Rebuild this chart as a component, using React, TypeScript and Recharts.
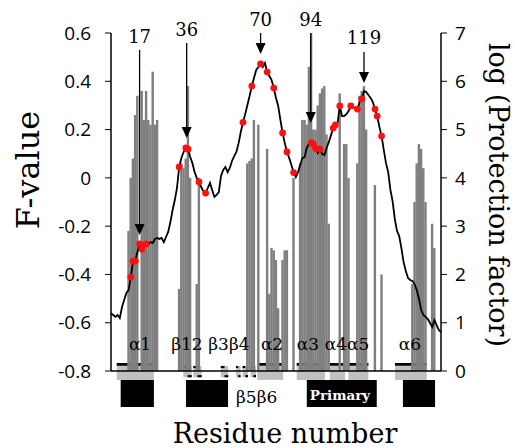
import React from 'react'
import { ComposedChart, Bar, Line, XAxis, YAxis, ReferenceArea, ReferenceLine, ReferenceDot } from 'recharts'

// F-value per residue, starting at residue 3
const FIRST_RESIDUE = 3
const F_VALUES = [
  -0.56, -0.568, -0.576, -0.568, -0.581, -0.535, -0.506, -0.477, -0.465, -0.411,
  -0.345, -0.345, -0.307, -0.274, -0.295, -0.278, -0.274, -0.274, -0.266, -0.27,
  -0.253, -0.249, -0.253, -0.249, -0.266, -0.245, -0.224, -0.183, -0.133, -0.092,
  -0.042, 0.045, 0.082, 0.107, 0.124, 0.119, 0.086, 0.061, 0.024, -0.001,
  -0.017, -0.038, -0.055, -0.063, -0.042, -0.021, -0.05, -0.079, -0.071, -0.059,
  0.008, 0.033, 0.045, 0.024, 0.041, 0.07, 0.09, 0.107, 0.144, 0.19,
  0.23, 0.264, 0.302, 0.339, 0.38, 0.414, 0.447, 0.459, 0.472, 0.459,
  0.476, 0.438, 0.422, 0.405, 0.372, 0.331, 0.298, 0.24, 0.186, 0.144,
  0.107, 0.082, 0.053, 0.022, 0.003, 0.024, 0.053, 0.082, 0.086, 0.124,
  0.142, 0.146, 0.14, 0.122, 0.103, 0.119, 0.099, 0.095, 0.124, 0.148,
  0.177, 0.206, 0.219, 0.227, 0.298, 0.256, 0.256, 0.264, 0.277, 0.298,
  0.293, 0.289, 0.285, 0.314, 0.327, 0.36, 0.356, 0.343, 0.331, 0.314,
  0.285, 0.256, 0.211, 0.173, 0.115, 0.061, 0.024, -0.05, -0.096, -0.17,
  -0.22, -0.241, -0.291, -0.349, -0.386, -0.415, -0.423, -0.427, -0.44, -0.465,
  -0.502, -0.547, -0.568, -0.576, -0.585, -0.601, -0.618, -0.589, -0.61, -0.63,
  -0.639,
]
const RESIDUES = F_VALUES.map((_, i) => FIRST_RESIDUE + i)

// log(protection factor) bars
const PF_RESIDUES = [
  11, 12, 13, 14, 15, 17, 18, 19, 20, 21, 22, 23, 24,
  34, 35, 36, 37, 38, 39, 42, 43,
  65, 66, 67, 68, 70, 74, 75, 76, 77, 78, 79, 81, 82, 83, 86, 89,
  90, 91, 92, 93, 94, 95, 96, 97, 98, 99, 100, 101, 102,
  107, 109, 110, 111, 115, 116, 117, 118, 119, 123, 126,
  140, 141, 142, 143, 144, 145, 146, 149, 150,
]
const PF_VALUES = [
  2.9, 4.0, 4.4, 5.3, 5.7, 5.8, 5.2, 5.8, 5.2, 5.1, 6.2, 5.1, 5.2,
  1.7, 4.3, 4.2, 4.4, 5.9, 4.0, 1.8, 4.0,
  4.3, 4.35, 4.4, 5.2, 5.1, 4.6, 1.6, 2.55, 2.5, 2.3, 1.3, 2.3, 2.5, 2.5, 4.0, 4.3,
  5.2, 5.2, 5.1, 6.3, 7.0, 5.0, 5.0, 5.5, 5.75, 5.85, 5.9, 4.9, 3.05,
  5.75, 4.7, 4.7, 4.0, 4.3, 5.7, 5.8, 5.9, 5.0, 3.85, 2.0,
  1.8, 3.5, 4.3, 4.7, 4.6, 4.2, 3.5, 3.05, 2.55,
]

const RED_RESIDUES = [
  12, 13, 14, 16, 17, 19, 34, 37, 38, 43, 46, 63, 67, 71, 74, 77, 81, 83, 86,
  94, 95, 96, 98, 104, 105, 107, 112, 115, 117, 123, 124, 126,
]

const F_TICKS = [-0.8, -0.6, -0.4, -0.2, 0, 0.2, 0.4, 0.6]
const PF_TICKS = [0, 1, 2, 3, 4, 5, 6, 7]

// arrows with residue labels
const ARROW_LABELS = ['17', '36', '70', '94', '119']
const ARROW_AT = [16, 37.4, 71, 93.8, 118]
const ARROW_TOP = [0.53, 0.559, 0.6, 0.6, 0.521]
const ARROW_TIP = [-0.237, 0.165, 0.513, 0.227, 0.393]
const ARROW_TEXT = [0.585, 0.614, 0.654, 0.654, 0.581]

// secondary structure track
const HELIX_FROM = [5.6, 69.5, 87.4, 102.5, 110.9, 132.1]
const HELIX_TO = [22.5, 81.3, 100.3, 109.4, 120, 146.5]
const STRAND_FROM = [35.9, 40.4, 52.9, 59.8, 62.8, 66.5]
const STRAND_TO = [39.7, 44.2, 56.3, 61.9, 65.3, 68.9]
const BLOCK_FROM = [7.4, 37.1, 92, 135.7]
const BLOCK_TO = [22.5, 56.2, 123.8, 150.3]
const SS_LABELS = ['α1', 'β12', 'β3β4', 'α2', 'α3', 'α4α5', 'α6']
const SS_LABEL_AT = [16.2, 37.5, 56.6, 76.2, 92.5, 110.3, 138.9]

const data = RESIDUES.map((r, i) => {
  const k = PF_RESIDUES.indexOf(r)
  return {
    r,
    f: F_VALUES[i],
    pf: k >= 0 ? PF_VALUES[k] : null,
    red: RED_RESIDUES.includes(r) ? F_VALUES[i] : null,
  }
})

const SERIF = 'DejaVu Serif'
const TICK_FONT = { fill: '#000', fontSize: 19, fontFamily: 'Open Sans' }

const textShape = (txt: string, size: number, fill = '#000', weight = 'normal') => (p: any) => (
  <text x={p.cx} y={p.cy} textAnchor="middle" dominantBaseline="central" fontFamily={SERIF} fontSize={size} fontWeight={weight} fill={fill}>
    {txt}
  </text>
)

const headShape = (p: any) => (
  <polygon points={`${p.cx - 5},${p.cy - 11} ${p.cx + 5},${p.cy - 11} ${p.cx},${p.cy}`} fill="#000" />
)

// thin column centred on the residue, wide enough to touch its neighbours
const columnShape = (p: any) => {
  if (!p.height || p.height <= 0) return <g />
  const cx = p.x + p.width / 2
  return <rect x={cx - 1.2} y={p.y} width={2.4} height={p.height} fill="#7f7f7f" />
}

const App: React.FC = () => {
  return (
    <div style={{ position: 'absolute', left: 0, top: 0, width: 515, height: 448, background: '#fff' }}>
      <ComposedChart width={515} height={448} data={data} margin={{ top: 33, right: 14, bottom: 77, left: 51 }}>
        <XAxis dataKey="r" type="number" domain={[3, 153]} hide />
        <YAxis
          yAxisId="left"
          domain={[-0.8, 0.6]}
          ticks={F_TICKS}
          width={60}
          tickSize={6}
          tickMargin={14}
          tick={TICK_FONT}
          tickLine={{ stroke: '#000' }}
          axisLine={{ stroke: '#000', strokeWidth: 1.5 }}
          tickFormatter={(v: number) => (v === 0 ? '0' : v.toFixed(1))}
        />
        <YAxis
          yAxisId="right"
          orientation="right"
          domain={[0, 7]}
          ticks={PF_TICKS}
          width={60}
          tickSize={6}
          tickMargin={8}
          tick={TICK_FONT}
          tickLine={{ stroke: '#000' }}
          axisLine={{ stroke: '#000', strokeWidth: 1.5 }}
        />
        <Bar yAxisId="right" dataKey="pf" fill="#7f7f7f" barSize={2} shape={columnShape} isAnimationActive={false} />
        <Line yAxisId="left" type="linear" dataKey="f" stroke="#000" strokeWidth={1.8} dot={false} activeDot={false} isAnimationActive={false} />
        <Line yAxisId="left" dataKey="red" stroke="none" dot={{ r: 3.4, fill: '#ff1010', stroke: 'none' }} activeDot={false} isAnimationActive={false} />

        <ReferenceLine yAxisId="left" y={-0.8} stroke="#000" strokeWidth={1.5} />

        {ARROW_AT.map((x, i) => (
          <ReferenceLine
            key={`al${i}`}
            yAxisId="left"
            ifOverflow="visible"
            segment={[{ x, y: ARROW_TOP[i] }, { x, y: ARROW_TIP[i] + 0.035 }]}
            stroke="#000"
            strokeWidth={1.3}
          />
        ))}
        {ARROW_AT.map((x, i) => (
          <ReferenceDot key={`ah${i}`} yAxisId="left" x={x} y={ARROW_TIP[i]} ifOverflow="visible" shape={headShape} />
        ))}
        {ARROW_AT.map((x, i) => (
          <ReferenceDot key={`at${i}`} yAxisId="left" x={x} y={ARROW_TEXT[i]} ifOverflow="visible" shape={textShape(ARROW_LABELS[i], 18)} />
        ))}

        {HELIX_FROM.map((x1, i) => (
          <ReferenceArea key={`h${i}`} yAxisId="left" x1={x1} x2={HELIX_TO[i]} y1={-0.837} y2={-0.767} fill="#c0c0c0" fillOpacity={1} ifOverflow="visible" />
        ))}
        {HELIX_FROM.map((x1, i) => (
          <ReferenceArea key={`ht${i}`} yAxisId="left" x1={x1} x2={HELIX_TO[i]} y1={-0.778} y2={-0.767} fill="#000" fillOpacity={1} ifOverflow="visible" />
        ))}
        {STRAND_FROM.map((x1, i) => (
          <ReferenceArea key={`s${i}`} yAxisId="left" x1={x1} x2={STRAND_TO[i]} y1={-0.826} y2={-0.779} fill="#c0c0c0" fillOpacity={1} ifOverflow="visible" />
        ))}
        {STRAND_FROM.map((x1, i) => (
          <ReferenceArea key={`st${i}`} yAxisId="left" x1={x1} x2={(x1 + STRAND_TO[i]) / 2} y1={-0.788} y2={-0.779} fill="#000" fillOpacity={1} ifOverflow="visible" />
        ))}
        {STRAND_FROM.map((x1, i) => (
          <ReferenceArea key={`sb${i}`} yAxisId="left" x1={(x1 + STRAND_TO[i]) / 2} x2={STRAND_TO[i]} y1={-0.826} y2={-0.817} fill="#000" fillOpacity={1} ifOverflow="visible" />
        ))}
        {BLOCK_FROM.map((x1, i) => (
          <ReferenceArea key={`b${i}`} yAxisId="left" x1={x1} x2={BLOCK_TO[i]} y1={-0.949} y2={-0.837} fill="#000" fillOpacity={1} ifOverflow="visible" />
        ))}
        {SS_LABELS.map((t, i) => (
          <ReferenceDot key={`sl${i}`} yAxisId="left" x={SS_LABEL_AT[i]} y={-0.688} ifOverflow="visible" shape={textShape(t, 17)} />
        ))}
        <ReferenceDot yAxisId="left" x={69.2} y={-0.906} ifOverflow="visible" shape={textShape('β5β6', 17)} />
        <ReferenceDot yAxisId="left" x={107.1} y={-0.9} ifOverflow="visible" shape={textShape('Primary', 13.5, '#fff', 'bold')} />
      </ComposedChart>

      <div style={{ position: 'absolute', left: 28, top: 170, transform: 'translate(-50%, -50%) rotate(-90deg)', fontFamily: SERIF, fontSize: 32, lineHeight: 1, whiteSpace: 'nowrap' }}>
        F-value
      </div>
      <div style={{ position: 'absolute', left: 498, top: 195, transform: 'translate(-50%, -50%) rotate(90deg)', fontFamily: SERIF, fontSize: 27, lineHeight: 1, whiteSpace: 'nowrap' }}>
        log (Protection factor)
      </div>
      <div style={{ position: 'absolute', left: 285, top: 433, transform: 'translate(-50%, -50%)', fontFamily: SERIF, fontSize: 27, lineHeight: 1, whiteSpace: 'nowrap' }}>
        Residue number
      </div>
    </div>
  )
}

export default App
